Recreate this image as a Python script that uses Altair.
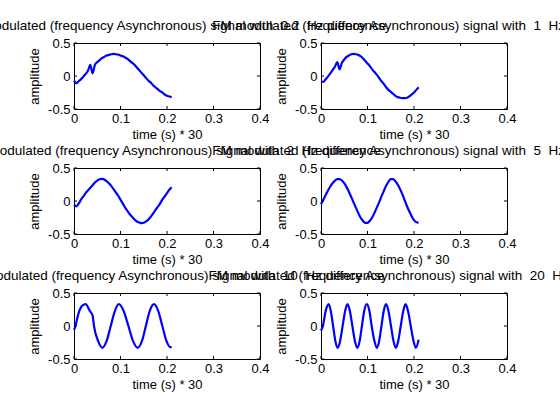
import altair as alt
import pandas as pd

# panel geometry (plot area of each subplot, in px)
W, H = 186, 66
TICK_LEN = 3
FONT = "Liberation Sans"

X_TICKS = [0, 0.1, 0.2, 0.3, 0.4]
Y_TICKS = [-0.5, 0, 0.5]
FREQS = ["0.2", "1", "2", "5", "10", "20"]

# time samples (s * 30) for the first four traces
T_GRID = [0.000, 0.005, 0.010, 0.015, 0.020, 0.025, 0.030, 0.035, 0.040, 0.045,
          0.050, 0.055, 0.060, 0.065, 0.070, 0.075, 0.080, 0.085, 0.090, 0.095,
          0.100, 0.105, 0.110, 0.115, 0.120, 0.125, 0.130, 0.135, 0.140, 0.145,
          0.150, 0.155, 0.160, 0.165, 0.170, 0.175, 0.180, 0.185, 0.190, 0.195,
          0.200, 0.205, 0.210]

A_02HZ = [-0.07, -0.11, -0.08, -0.05, -0.01, 0.03, 0.08, 0.17, 0.04, 0.17,
          0.21, 0.24, 0.27, 0.29, 0.31, 0.32, 0.33, 0.335, 0.33, 0.325,
          0.31, 0.30, 0.28, 0.26, 0.23, 0.20, 0.17, 0.13, 0.09, 0.05,
          0.01, -0.03, -0.07, -0.10, -0.14, -0.17, -0.20, -0.23, -0.25, -0.28,
          -0.30, -0.31, -0.32]

A_1HZ = [-0.08, -0.09, -0.05, -0.01, 0.04, 0.09, 0.14, 0.21, 0.10, 0.20,
         0.25, 0.29, 0.31, 0.33, 0.335, 0.33, 0.32, 0.30, 0.27, 0.23,
         0.19, 0.15, 0.10, 0.06, 0.02, -0.03, -0.08, -0.12, -0.17, -0.21,
         -0.24, -0.27, -0.30, -0.32, -0.33, -0.335, -0.335, -0.33, -0.31, -0.28,
         -0.25, -0.21, -0.17]

A_2HZ = [-0.06, -0.08, -0.04, 0.02, 0.07, 0.12, 0.16, 0.20, 0.24, 0.28,
         0.31, 0.33, 0.335, 0.325, 0.30, 0.27, 0.23, 0.18, 0.13, 0.08,
         0.02, -0.04, -0.10, -0.15, -0.20, -0.24, -0.28, -0.31, -0.325, -0.335,
         -0.33, -0.31, -0.28, -0.24, -0.19, -0.14, -0.09, -0.04, 0.02, 0.07,
         0.12, 0.17, 0.21]

A_5HZ = [-0.05, 0.02, 0.09, 0.16, 0.22, 0.27, 0.31, 0.33, 0.33, 0.31,
         0.27, 0.21, 0.14, 0.06, -0.02, -0.10, -0.18, -0.25, -0.30, -0.33,
         -0.33, -0.30, -0.25, -0.18, -0.10, -0.02, 0.07, 0.15, 0.23, 0.29,
         0.33, 0.33, 0.30, 0.25, 0.18, 0.10, 0.01, -0.08, -0.16, -0.23,
         -0.29, -0.32, -0.33]

# faster traces: peaks, troughs and crossings
T_10HZ = [0.000, 0.003, 0.010, 0.018, 0.025, 0.034, 0.037, 0.040, 0.043, 0.052,
          0.061, 0.070, 0.079, 0.088, 0.0965, 0.1065, 0.117, 0.127, 0.137, 0.146,
          0.1545, 0.163, 0.172, 0.181, 0.190, 0.199, 0.207, 0.210]
A_10HZ = [-0.06, 0.00, 0.20, 0.31, 0.33, 0.23, 0.20, 0.16, 0.00, -0.23,
          -0.33, -0.23, 0.00, 0.23, 0.33, 0.23, 0.00, -0.23, -0.33, -0.23,
          0.00, 0.23, 0.33, 0.23, 0.00, -0.23, -0.32, -0.32]

T_20HZ = [0.000, 0.004, 0.0105, 0.0165, 0.021, 0.026, 0.031, 0.036, 0.041, 0.0465,
          0.052, 0.057, 0.062, 0.0675, 0.073, 0.078, 0.083, 0.088, 0.093, 0.0985,
          0.104, 0.109, 0.115, 0.120, 0.125, 0.130, 0.135, 0.140, 0.145, 0.1505,
          0.156, 0.161, 0.166, 0.1715, 0.177, 0.182, 0.187, 0.193, 0.199, 0.204,
          0.210]
A_20HZ = [-0.07, 0.00, 0.24, 0.33, 0.23, 0.00, -0.23, -0.33, -0.23, 0.00,
          0.23, 0.33, 0.23, 0.00, -0.23, -0.33, -0.23, 0.00, 0.23, 0.33,
          0.23, 0.00, -0.23, -0.33, -0.23, 0.00, 0.23, 0.33, 0.23, 0.00,
          -0.23, -0.33, -0.23, 0.00, 0.23, 0.33, 0.23, 0.00, -0.23, -0.33,
          -0.21]

TRACES = [(T_GRID, A_02HZ), (T_GRID, A_1HZ), (T_GRID, A_2HZ),
          (T_GRID, A_5HZ), (T_10HZ, A_10HZ), (T_20HZ, A_20HZ)]

NUM_LABEL = "(datum.value < 0 ? '-' : '') + format(abs(datum.value), '~g')"

X_AXIS = alt.Axis(values=X_TICKS, title="time (s) * 30", labelExpr=NUM_LABEL,
                  ticks=False, domain=False, grid=False, labelPadding=3,
                  titlePadding=3, labelFlush=False, labelOverlap=False)
Y_AXIS = alt.Axis(values=Y_TICKS, title="amplitude", labelExpr=NUM_LABEL,
                  ticks=False, domain=False, grid=False, labelPadding=4,
                  titlePadding=6, labelFlush=False, labelOverlap=False)


def subplot(times, amps, freq):
    xs = alt.Scale(domain=[0, 0.4], nice=False, zero=False)
    ys = alt.Scale(domain=[-0.5, 0.5], nice=False, zero=False)
    sig = pd.DataFrame({"t": times, "v": amps})
    xt = pd.DataFrame({"t": X_TICKS})
    yt = pd.DataFrame({"v": Y_TICKS})

    line = alt.Chart(sig).mark_line(
        color="#0000ff", strokeWidth=2.2, interpolate="monotone"
    ).encode(
        x=alt.X("t:Q", scale=xs, axis=X_AXIS),
        y=alt.Y("v:Q", scale=ys, axis=Y_AXIS),
    )

    # inward tick marks on all four sides of the box
    rule = dict(color="black", strokeWidth=1)
    tick_b = alt.Chart(xt).mark_rule(**rule).encode(
        x=alt.X("t:Q", scale=xs, axis=X_AXIS), y=alt.value(H), y2=alt.value(H - TICK_LEN))
    tick_t = alt.Chart(xt).mark_rule(**rule).encode(
        x=alt.X("t:Q", scale=xs, axis=X_AXIS), y=alt.value(0), y2=alt.value(TICK_LEN))
    tick_l = alt.Chart(yt).mark_rule(**rule).encode(
        y=alt.Y("v:Q", scale=ys, axis=Y_AXIS), x=alt.value(0), x2=alt.value(TICK_LEN))
    tick_r = alt.Chart(yt).mark_rule(**rule).encode(
        y=alt.Y("v:Q", scale=ys, axis=Y_AXIS), x=alt.value(W - TICK_LEN), x2=alt.value(W))

    title = ("FM modulated (frequency Asynchronous) signal with \u00a0"
             + freq + "\u00a0 Hz difference")
    return alt.layer(line, tick_b, tick_t, tick_l, tick_r).properties(
        width=W, height=H,
        title=alt.TitleParams(
            text=title, font=FONT, fontSize=13.5, fontWeight="normal",
            color="black", anchor="middle", frame="group", offset=7,
            baseline="alphabetic", dy=13, dx=6),
    )


panels = [subplot(t, a, f) for (t, a), f in zip(TRACES, FREQS)]

chart = alt.concat(
    *panels, columns=2, spacing={"row": 59, "column": 61}, bounds="flush"
).properties(
    autosize=alt.AutoSizeParams(type="none"),
    padding={"left": 74, "top": 43, "right": 486, "bottom": 377},
    background="white",
).configure_view(
    stroke="black", strokeWidth=1
).configure_axis(
    labelFont=FONT, labelFontSize=13, labelColor="black",
    titleFont=FONT, titleFontSize=13, titleFontWeight="normal", titleColor="black",
)

chart.save("out.html", embed_options={"renderer": "svg", "actions": False})
